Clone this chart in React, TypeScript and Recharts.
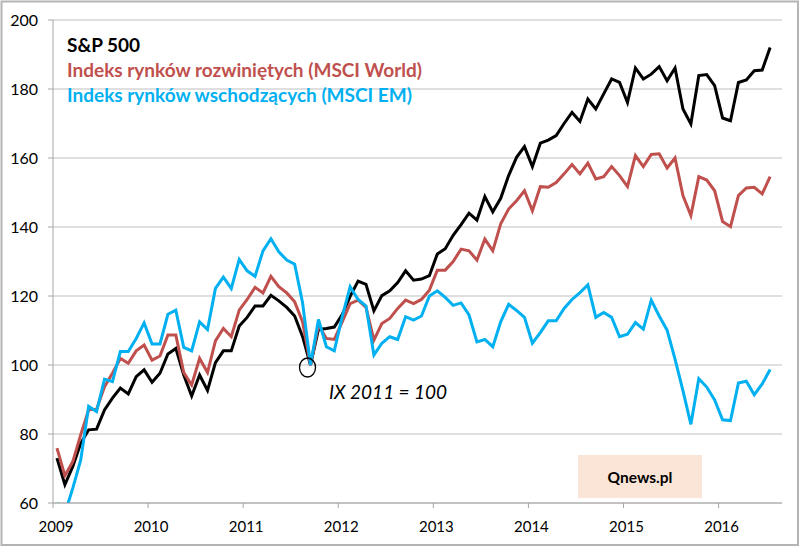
import React from 'react';
import { LineChart, Line, XAxis, YAxis, CartesianGrid, ReferenceDot } from 'recharts';

// Year labels (one tick every 12 months, starting Jan 2009)
const yearLabels = ['2009', '2010', '2011', '2012', '2013', '2014', '2015', '2016'];
const yTicks = [60, 80, 100, 120, 140, 160, 180, 200];

// Monthly values, Jan 2009 .. Jul 2016 (IX 2011 = 100)
const sp500 = [
  73.0, 65.3, 70.6, 77.3, 81.2, 81.4, 87.0, 90.4, 93.3, 91.6, 96.6, 98.6,
  95.0, 97.6, 103.2, 104.8, 97.1, 91.0, 97.1, 92.6, 100.7, 104.1, 104.1, 111.3,
  113.8, 117.1, 117.1, 120.2, 118.6, 116.7, 114.2, 108.2, 100.0, 110.3, 110.6, 111.0,
  114.6, 119.9, 124.3, 123.4, 115.7, 120.1, 121.5, 123.9, 127.3, 124.6, 124.9, 125.9,
  132.2, 133.7, 137.6, 140.7, 144.0, 142.0, 148.8, 144.4, 148.3, 154.9, 160.2, 163.3,
  157.5, 164.3, 165.2, 166.5, 170.0, 173.2, 170.6, 177.1, 174.2, 178.6, 182.9, 181.9,
  176.1, 186.1, 182.9, 184.3, 186.5, 182.4, 186.1, 174.2, 169.9, 183.9, 184.2, 181.0,
  171.6, 170.8, 181.9, 182.6, 185.3, 185.5, 192.0,
];

const msciWorld = [
  75.9, 67.9, 72.0, 79.8, 87.0, 87.2, 93.7, 97.6, 101.9, 100.5, 104.1, 105.8,
  101.4, 102.6, 108.7, 108.7, 97.8, 94.2, 101.9, 97.8, 107.0, 110.6, 108.2, 115.9,
  119.0, 122.5, 120.9, 125.7, 122.7, 120.9, 118.3, 112.5, 100.0, 111.6, 107.7, 107.4,
  112.5, 117.8, 118.8, 116.7, 107.2, 112.0, 113.5, 116.4, 118.8, 117.8, 119.0, 121.7,
  127.5, 127.5, 130.0, 133.6, 133.1, 130.4, 136.5, 133.1, 140.9, 145.2, 147.6, 150.5,
  144.7, 151.7, 151.5, 152.9, 155.4, 158.1, 155.4, 158.5, 153.9, 154.6, 157.5, 154.9,
  151.7, 160.7, 157.5, 161.0, 161.2, 157.1, 160.0, 149.1, 143.3, 154.6, 153.6, 150.5,
  141.6, 140.1, 149.1, 151.3, 151.5, 149.6, 154.6,
];

const msciEM = [
  60.0, 57.0, 64.3, 72.5, 88.0, 86.5, 95.9, 95.2, 103.9, 103.9, 107.7, 112.2,
  106.1, 106.1, 114.7, 115.9, 105.1, 104.1, 112.5, 110.3, 122.2, 125.5, 122.2, 130.6,
  127.3, 125.7, 133.1, 136.6, 132.8, 130.4, 129.2, 118.0, 100.0, 113.2, 105.3, 104.1,
  114.0, 122.7, 119.0, 117.1, 102.9, 106.3, 108.2, 107.4, 114.0, 113.0, 114.2, 120.0,
  121.5, 119.6, 117.3, 118.0, 114.5, 106.7, 107.4, 105.3, 112.5, 117.6, 115.8, 113.8,
  106.3, 109.4, 112.8, 112.8, 116.4, 119.0, 121.0, 123.2, 113.8, 115.2, 113.8, 108.2,
  108.9, 112.3, 110.4, 118.8, 114.2, 110.1, 101.7, 92.6, 82.8, 96.0, 93.6, 89.9,
  84.1, 83.9, 94.8, 95.3, 91.4, 94.5, 98.7,
];

const seriesNames = [
  'S&P 500',
  'Indeks rynków rozwiniętych (MSCI World)',
  'Indeks rynków wschodzących (MSCI EM)',
];
const annotationText = 'IX 2011 = 100';
const watermarkText = 'Qnews.pl';
const baseMonthIndex = 32; // Sep 2011

// Build chart table: each month is centered in its slot
const data = sp500.map((v, i) => ({
  t: i + 0.5,
  sp: v,
  world: msciWorld[i],
  em: msciEM[i],
}));
const xTicks = yearLabels.map((_, i) => i * 12);
const monthSlots = 92;

const FONT = 'Lato, "Noto Sans", sans-serif';
const GRID = '#bfbfbf';
const AXIS = '#a6a6a6';
const COLORS = ['#000000', '#c0504d', '#00b0f0'];

const XTick = (props: any) => {
  const { x, y, payload } = props;
  const label = yearLabels[Math.round(payload.value / 12)];
  return (
    <text x={x + 3} y={y} dy="0.71em" textAnchor="middle" fill="#000" fontSize={15} fontFamily={FONT}>
      {label}
    </text>
  );
};

export default function App() {
  return (
    <div
      style={{
        position: 'absolute',
        left: 0,
        top: 0,
        width: 800,
        height: 547,
        background: '#ffffff',
        fontFamily: FONT,
        overflow: 'hidden',
      }}
    >
      <LineChart
        width={800}
        height={547}
        data={data}
        margin={{ top: 20, right: 18, bottom: 14, left: 0 }}
      >
        <CartesianGrid horizontal vertical={false} stroke={GRID} />
        <XAxis
          type="number"
          dataKey="t"
          domain={[0, monthSlots]}
          ticks={xTicks}
          interval={0}
          allowDataOverflow
          height={30}
          axisLine={{ stroke: AXIS }}
          tickLine={{ stroke: AXIS }}
          tickSize={5}
          tickMargin={13}
          tick={<XTick />}
        />
        <YAxis
          type="number"
          domain={[60, 200]}
          ticks={yTicks}
          interval={0}
          allowDataOverflow
          width={53}
          axisLine={{ stroke: AXIS }}
          tickLine={{ stroke: AXIS }}
          tickSize={5}
          tickMargin={10}
          tick={{ fill: '#000', fontSize: 16, fontFamily: FONT }}
        />
        <Line
          type="linear"
          dataKey="sp"
          name={seriesNames[0]}
          stroke={COLORS[0]}
          strokeWidth={3}
          dot={false}
          activeDot={false}
          isAnimationActive={false}
        />
        <Line
          type="linear"
          dataKey="world"
          name={seriesNames[1]}
          stroke={COLORS[1]}
          strokeWidth={3}
          dot={false}
          activeDot={false}
          isAnimationActive={false}
        />
        <Line
          type="linear"
          dataKey="em"
          name={seriesNames[2]}
          stroke={COLORS[2]}
          strokeWidth={3}
          dot={false}
          activeDot={false}
          isAnimationActive={false}
        />
        <ReferenceDot
          x={data[baseMonthIndex].t}
          y={100}
          r={8}
          shape={(p: any) => (
            <ellipse cx={p.cx - 3} cy={p.cy + 2.5} rx={8} ry={9.5} fill="none" stroke="#000" strokeWidth={1.3} />
          )}
        />
      </LineChart>

      <svg
        width={800}
        height={547}
        style={{ position: 'absolute', left: 0, top: 0, pointerEvents: 'none' }}
      >
        <text x={67} y={52} fontSize={19} fontWeight={700} fill={COLORS[0]} fontFamily={FONT}>
          {seriesNames[0]}
        </text>
        <text x={67} y={77} fontSize={19} fontWeight={700} fill={COLORS[1]} fontFamily={FONT}>
          {seriesNames[1]}
        </text>
        <text x={67} y={102} fontSize={19} fontWeight={700} fill={COLORS[2]} fontFamily={FONT}>
          {seriesNames[2]}
        </text>
        <text x={329} y={399} fontSize={19} fontStyle="italic" fill="#000" fontFamily={FONT}>
          {annotationText}
        </text>
        <rect x={578} y={455} width={124} height={43} fill="#fbe5d6" />
        <text x={640} y={483} fontSize={15.5} fontWeight={700} textAnchor="middle" fill="#000" fontFamily={FONT}>
          {watermarkText}
        </text>
        <rect x={1.5} y={1.5} width={796.5} height={543.5} fill="none" stroke="#b4b4b4" strokeWidth={2} />
      </svg>
    </div>
  );
}
